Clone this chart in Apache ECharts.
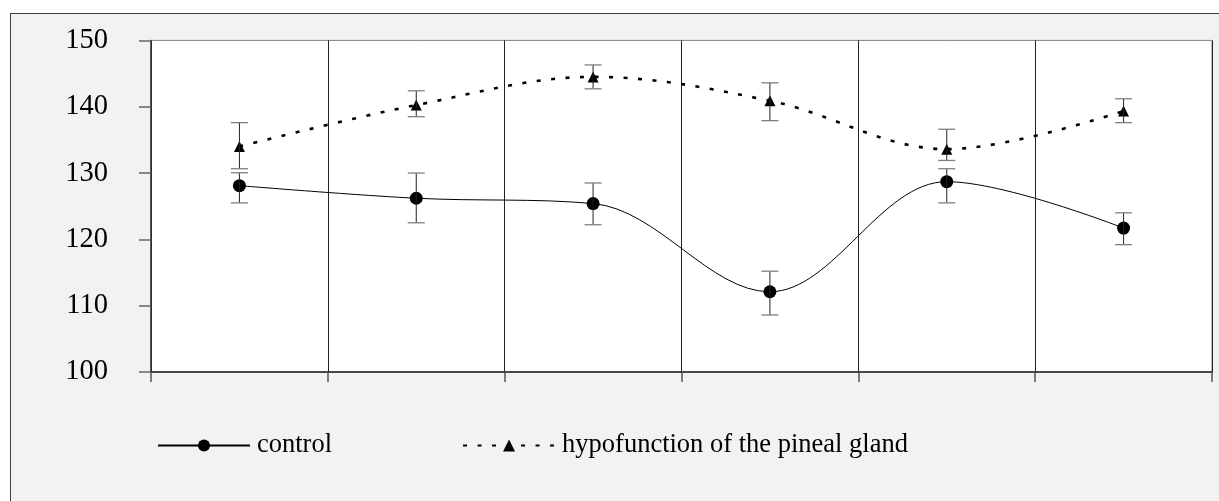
<!DOCTYPE html>
<html>
<head>
<meta charset="utf-8">
<script src="https://cdn.jsdelivr.net/npm/echarts@6/dist/echarts.min.js"></script>
<style>
  html, body { margin: 0; padding: 0; width: 1219px; height: 501px; overflow: hidden; background: #fff; }
  #bg { position: absolute; left: 10px; top: 13px; width: 1300px; height: 600px; background: #f2f2f2; border: 1px solid #404040; }
  #chart { position: absolute; left: 0; top: 0; width: 1219px; height: 501px; }
</style>
</head>
<body>
<div id="bg"></div>
<div id="chart"></div>
<script>
const categories = ['1', '2', '3', '4', '5', '6'];
const controlMean = [128.1, 126.2, 125.4, 112.1, 128.7, 121.7];
const controlHigh = [130.05, 130.0, 128.5, 115.2, 130.65, 124.0];
const controlLow  = [125.5, 122.5, 122.2, 108.6, 125.5, 119.2];
const hypoMean = [134.0, 140.25, 144.5, 140.9, 133.6, 139.35];
const hypoHigh = [137.6, 142.4, 146.3, 143.6, 136.6, 141.2];
const hypoLow  = [130.65, 138.5, 142.7, 137.9, 131.9, 137.6];
const yTicks = [100, 110, 120, 130, 140, 150];

const FONT = 'Liberation Serif';

function errData(low, high) {
  return categories.map((c, i) => [i, low[i], high[i]]);
}

function renderErr(params, api) {
  const x = api.value(0);
  const top = api.coord([x, api.value(2)]);
  const bot = api.coord([x, api.value(1)]);
  const hw = 8.5;
  return {
    type: 'group',
    children: [
      { type: 'line', shape: { x1: top[0], y1: top[1], x2: bot[0], y2: bot[1] },
        style: { stroke: '#222', lineWidth: 1 } },
      { type: 'line', shape: { x1: top[0] - hw, y1: top[1], x2: top[0] + hw, y2: top[1] },
        style: { stroke: '#7f7f7f', lineWidth: 1.3 } },
      { type: 'line', shape: { x1: bot[0] - hw, y1: bot[1], x2: bot[0] + hw, y2: bot[1] },
        style: { stroke: '#7f7f7f', lineWidth: 1.3 } }
    ]
  };
}

const chart = echarts.init(document.getElementById('chart'), null, { renderer: 'canvas' });
chart.setOption({
  backgroundColor: 'transparent',
  animation: false,
  textStyle: { fontFamily: FONT },
  grid: {
    left: 151, right: 7, top: 40.4, bottom: 129,
    show: true, backgroundColor: '#ffffff', borderColor: '#808080', borderWidth: 1
  },
  legend: {
    left: 152, top: 427,
    itemWidth: 92, itemHeight: 15, itemGap: 130,
    textStyle: { fontFamily: FONT, fontSize: 26.5, color: '#000', padding: [0, 0, 0, 2] },
    data: ['control', 'hypofunction of the pineal gland']
  },
  xAxis: {
    type: 'category',
    data: categories,
    boundaryGap: true,
    axisLine: { show: true, lineStyle: { color: '#222', width: 1.5 } },
    axisTick: { show: true, length: 10, inside: false, lineStyle: { color: '#555', width: 1.5 } },
    axisLabel: { show: false },
    splitLine: { show: true, lineStyle: { color: '#222', width: 1 } }
  },
  yAxis: {
    type: 'value',
    min: yTicks[0], max: yTicks[yTicks.length - 1], interval: 10,
    axisLine: { show: true, lineStyle: { color: '#333', width: 1.5 } },
    axisTick: { show: true, length: 12, inside: false, lineStyle: { color: '#666', width: 1.5 } },
    axisLabel: { fontFamily: FONT, fontSize: 28.5, color: '#000', margin: 43 },
    splitLine: { show: false }
  },
  series: [
    {
      name: 'control', type: 'line', data: controlMean, smooth: 0.35,
      symbol: 'circle', symbolSize: 13,
      itemStyle: { color: '#000' },
      lineStyle: { color: '#000', width: 1 },
      z: 3
    },
    {
      name: 'hypofunction of the pineal gland', type: 'line', data: hypoMean, smooth: 0.35,
      symbol: 'triangle', symbolSize: 11,
      itemStyle: { color: '#000' },
      lineStyle: { color: '#000', width: 2.6, type: [4, 10.5] },
      z: 3
    },
    {
      type: 'custom', name: 'controlErr', renderItem: renderErr,
      data: errData(controlLow, controlHigh), encode: { x: 0, y: [1, 2] }, z: 4,
      silent: true
    },
    {
      type: 'custom', name: 'hypoErr', renderItem: renderErr,
      data: errData(hypoLow, hypoHigh), encode: { x: 0, y: [1, 2] }, z: 4,
      silent: true
    }
  ]
});
</script>
</body>
</html>
